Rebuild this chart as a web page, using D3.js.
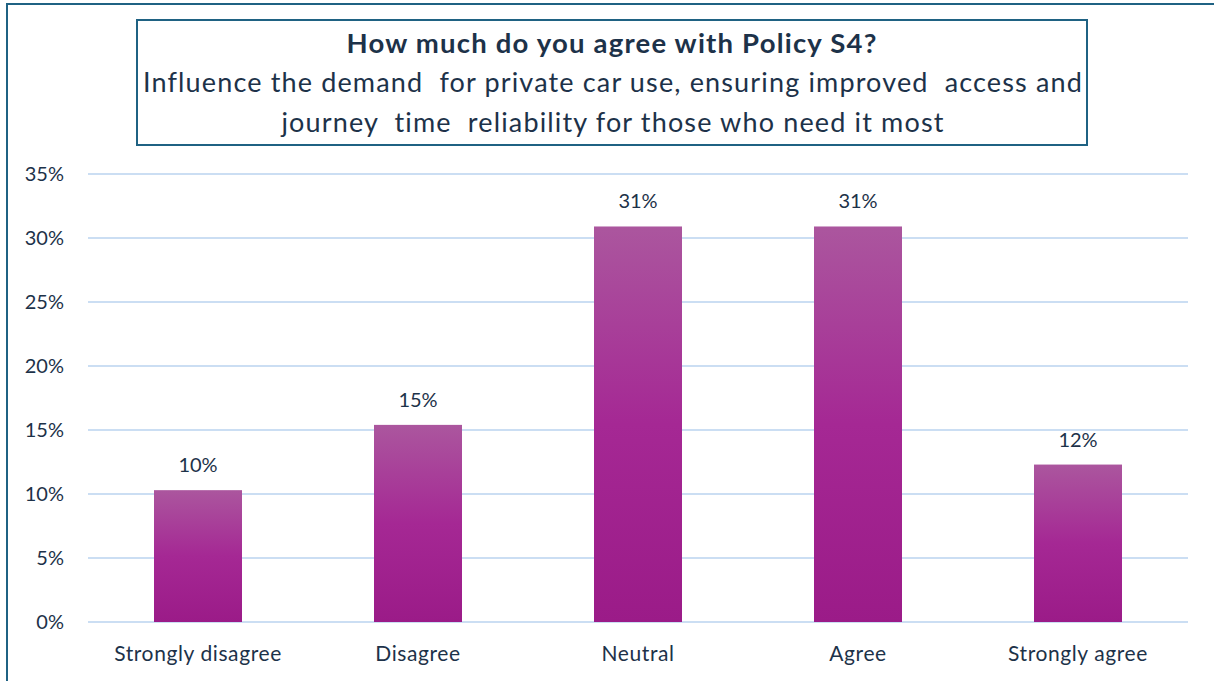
<!DOCTYPE html>
<html>
<head>
<meta charset="utf-8">
<script src="https://cdn.jsdelivr.net/npm/d3@7"></script>
<style>
  html, body { margin: 0; padding: 0; background: #ffffff; }
  svg { display: block; }
  text { font-family: Lato, "Open Sans", sans-serif; fill: #1d3249; }
</style>
</head>
<body>
<svg id="chart" width="1214" height="681"></svg>
<script>
// Survey responses for Policy S4
const categories = ["Strongly disagree", "Disagree", "Neutral", "Agree", "Strongly agree"];
const shares = [0.103, 0.154, 0.309, 0.309, 0.123];
const yTicks = [0, 0.05, 0.10, 0.15, 0.20, 0.25, 0.30, 0.35];
const titleText = "How much do you agree with Policy S4?";
const subtitleLines = [
  "Influence the demand  for private car use, ensuring improved  access and",
  "journey  time  reliability for those who need it most"
];

const svg = d3.select("#chart");
const W = 1214, H = 681;
const plot = { left: 88, right: 1188, top: 174, bottom: 622 };
const frameColor = "#1f6283";
const pct = d3.format(".0%");

// Bar gradient: lighter at the top, deeper purple towards the base
const defs = svg.append("defs");
const grad = defs.append("linearGradient")
  .attr("id", "barFill").attr("x1", 0).attr("y1", 0).attr("x2", 0).attr("y2", 1);
grad.append("stop").attr("offset", "0%").attr("stop-color", "#ab569e");
grad.append("stop").attr("offset", "50%").attr("stop-color", "#a52894");
grad.append("stop").attr("offset", "100%").attr("stop-color", "#9b1b88");

// Outer chart frame (runs off the right and bottom edges)
svg.append("rect")
  .attr("x", 7).attr("y", 4).attr("width", W + 20).attr("height", H + 20)
  .attr("fill", "none").attr("stroke", frameColor).attr("stroke-width", 2);

const x = d3.scaleBand().domain(categories).range([plot.left, plot.right]).paddingInner(0.6).paddingOuter(0.3);
const y = d3.scaleLinear().domain([0, 0.35]).range([plot.bottom, plot.top]);

// Horizontal gridlines
svg.append("g").selectAll("line").data(yTicks).join("line")
  .attr("x1", plot.left).attr("x2", plot.right)
  .attr("y1", d => y(d)).attr("y2", d => y(d))
  .attr("stroke", "#cbdef3").attr("stroke-width", 2);

// Y axis labels
const yAxis = svg.append("g")
  .attr("transform", `translate(${plot.left - 24},0)`)
  .call(d3.axisLeft(y).tickValues(yTicks).tickFormat(pct).tickSize(0).tickPadding(0));
yAxis.select(".domain").remove();
yAxis.selectAll("text").attr("font-size", 20).attr("font-family", null).attr("fill", "#1d3249");

// Bars
svg.append("g").selectAll("rect").data(shares).join("rect")
  .attr("x", (d, i) => x(categories[i]))
  .attr("width", x.bandwidth())
  .attr("y", d => y(d))
  .attr("height", d => y(0) - y(d))
  .attr("fill", "url(#barFill)");

// Value labels above bars
svg.append("g").selectAll("text").data(shares).join("text")
  .attr("x", (d, i) => x(categories[i]) + x.bandwidth() / 2)
  .attr("y", d => y(d) - 18)
  .attr("text-anchor", "middle")
  .attr("font-size", 20)
  .text(d => pct(d));

// Category labels
const xAxis = svg.append("g")
  .attr("transform", `translate(0,${plot.bottom})`)
  .call(d3.axisBottom(x).tickSize(0).tickPadding(24));
xAxis.select(".domain").remove();
xAxis.selectAll("text").attr("font-size", 21).attr("letter-spacing", 0.6)
  .attr("font-family", null).attr("fill", "#1d3249");

// Title box
svg.append("rect")
  .attr("x", 137).attr("y", 20).attr("width", 950).attr("height", 125)
  .attr("fill", "#ffffff").attr("stroke", frameColor).attr("stroke-width", 2);

svg.append("text")
  .attr("x", 612).attr("y", 53)
  .attr("text-anchor", "middle").attr("font-size", 27.5).attr("font-weight", 700)
  .attr("letter-spacing", 1.2)
  .text(titleText);

svg.append("g").selectAll("text").data(subtitleLines).join("text")
  .attr("x", 613).attr("y", (d, i) => 92 + i * 40)
  .attr("text-anchor", "middle").attr("font-size", 27).attr("letter-spacing", 1.15)
  .style("white-space", "pre")
  .text(d => d);
</script>
</body>
</html>
